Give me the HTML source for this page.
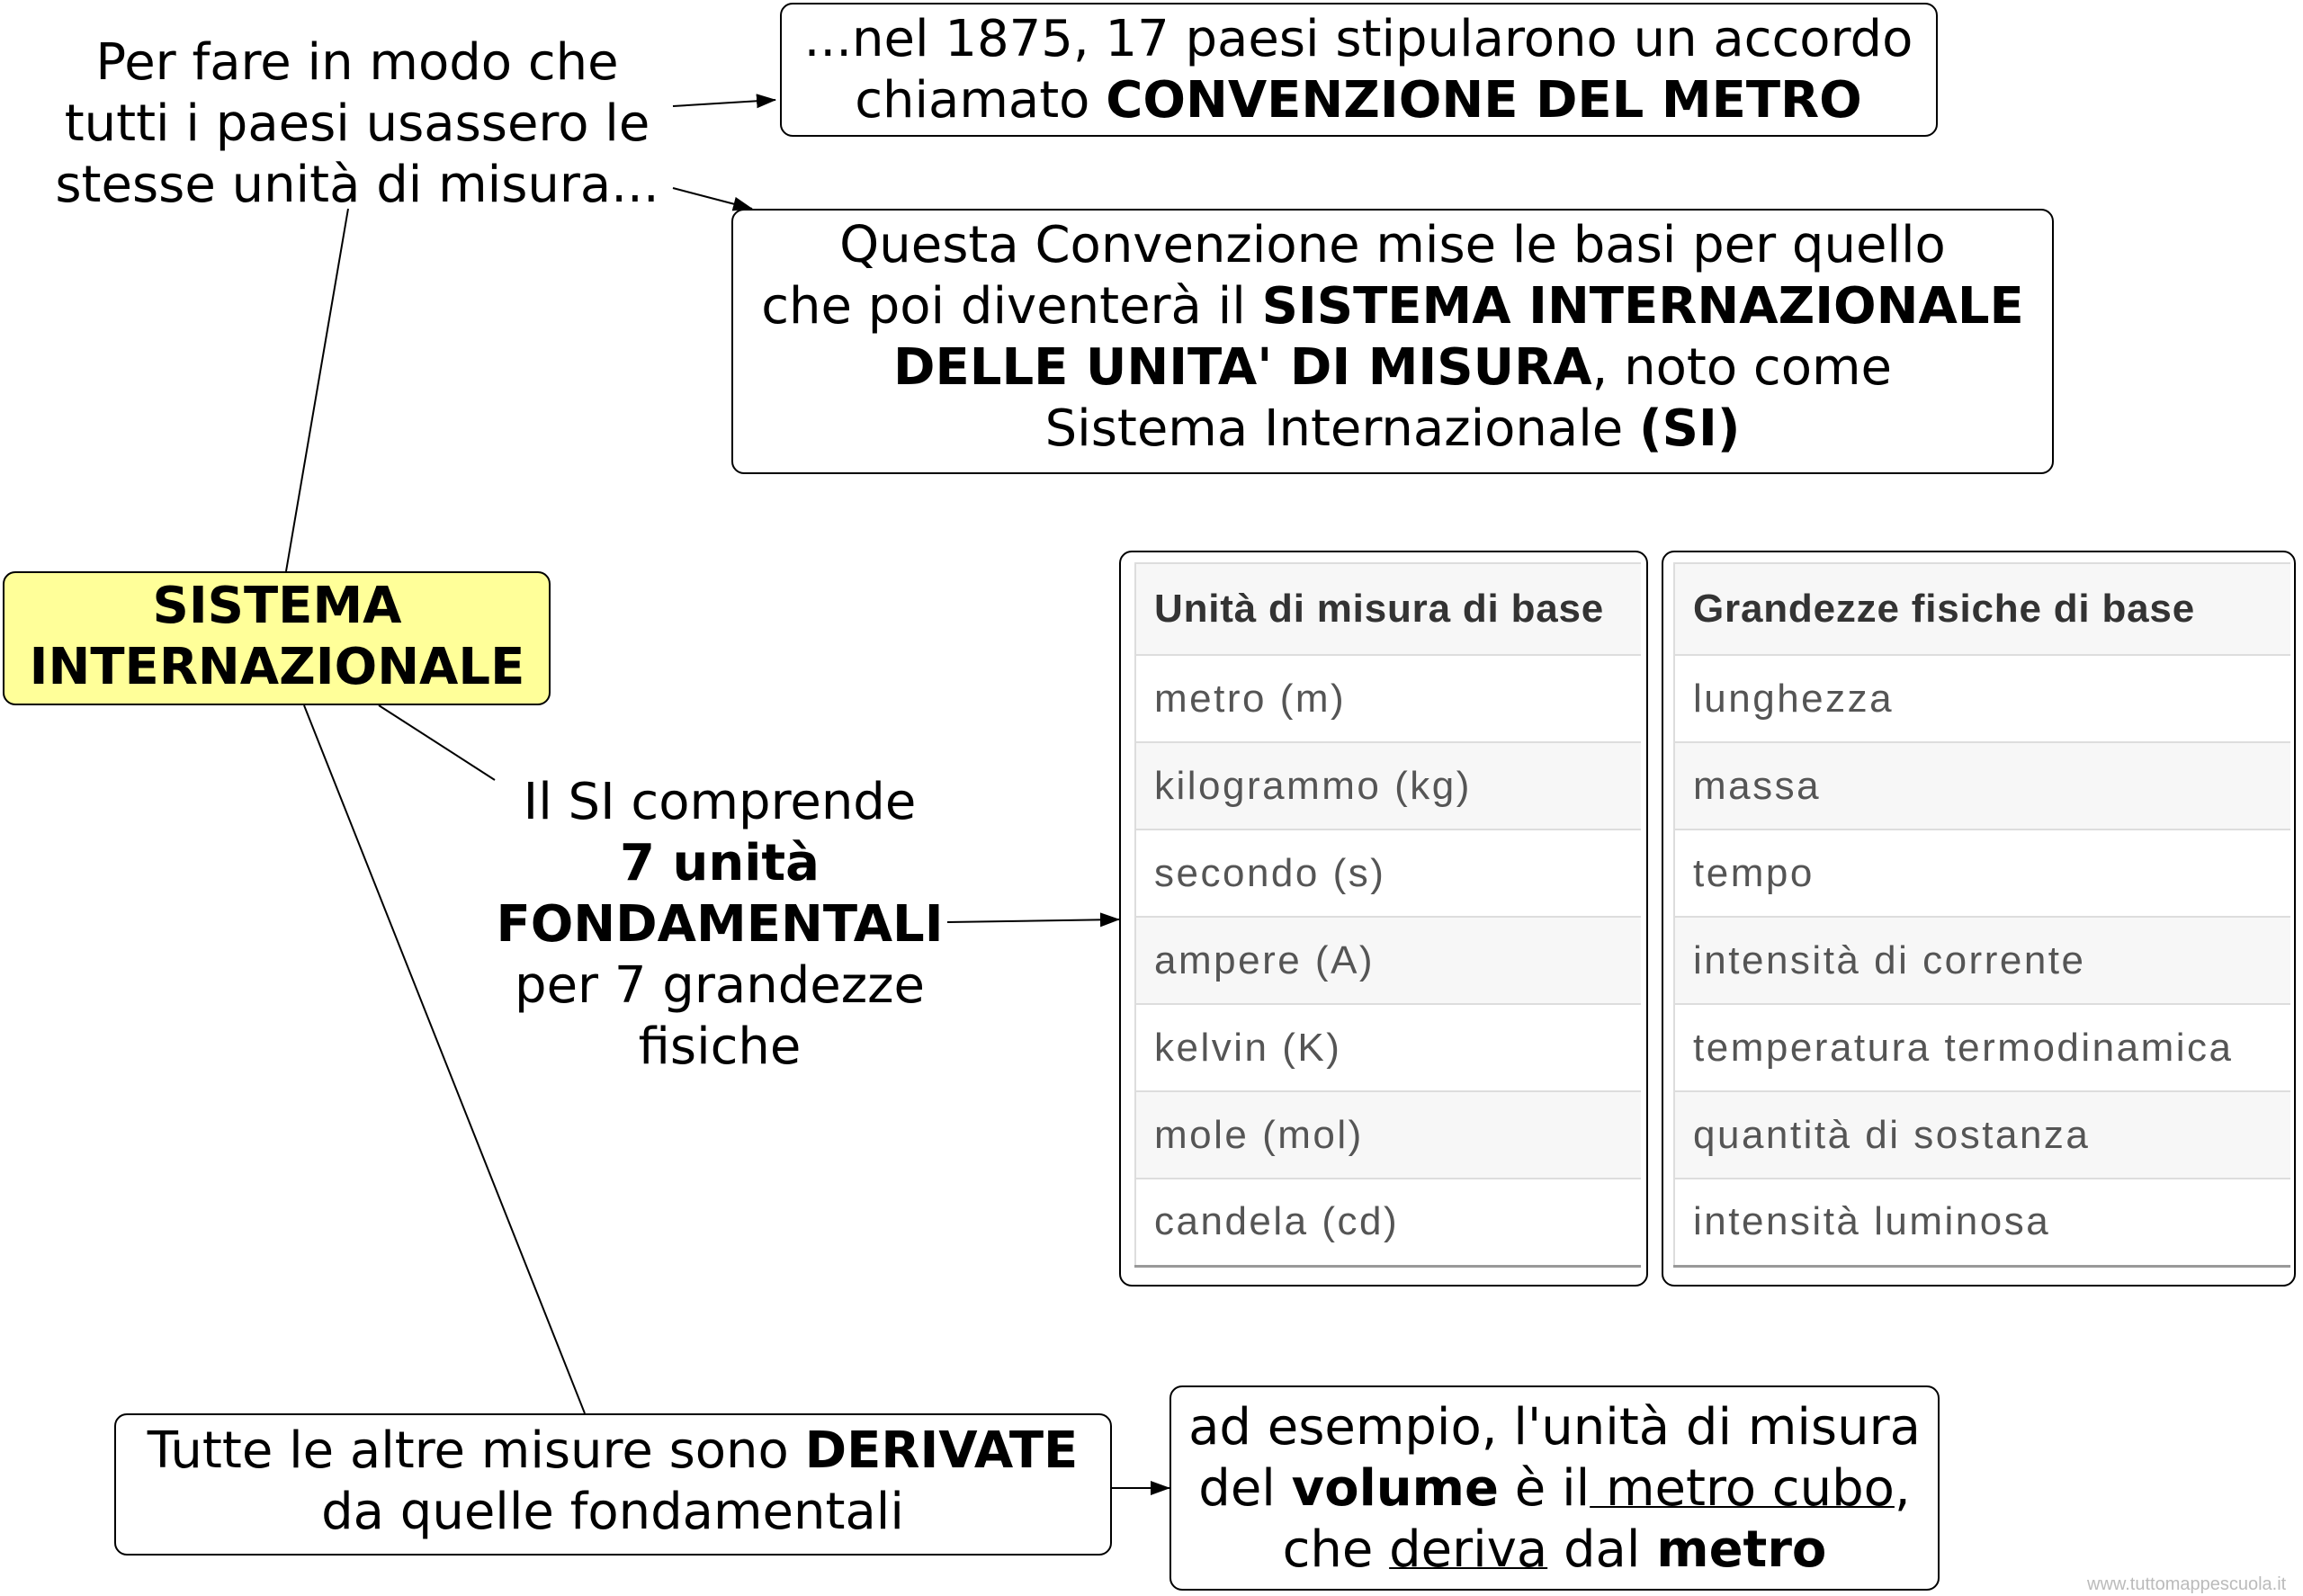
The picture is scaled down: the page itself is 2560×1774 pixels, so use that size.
<!DOCTYPE html>
<html><head><meta charset="utf-8"><style>
body{margin:0;width:2560px;height:1774px;background:#fff;position:relative;overflow:hidden;font-family:"DejaVu Sans","Liberation Sans",sans-serif;color:#000}
.t{position:absolute;white-space:nowrap;text-align:center;font-size:56px;line-height:68px;transform:translateX(-50%)}
.box{position:absolute;border:2px solid #000;border-radius:14px;background:#fff;box-sizing:border-box}
table{border-collapse:collapse;position:absolute;font-family:"Liberation Sans",sans-serif;font-size:44px;letter-spacing:2.5px;color:#555}
td{height:97px;border-top:2px solid #ddd;padding:0 20px;box-sizing:border-box}
tr:nth-child(odd) td{background:#f7f7f7}
tr:first-child td{font-weight:bold;color:#333;height:102px;letter-spacing:0.8px}
table{border-left:2px solid #ddd;border-bottom:3px solid #999}
u{text-decoration-thickness:2px}
</style></head><body>
<svg width="2560" height="1774" style="position:absolute;left:0;top:0">
<defs><marker id="a" markerWidth="22" markerHeight="16" refX="21" refY="8" orient="auto" markerUnits="userSpaceOnUse"><path d="M0,0 L22,8 L0,16z" fill="#000"/></marker></defs>
<g stroke="#000" stroke-width="2" fill="none">
<line x1="387" y1="232" x2="318" y2="635"/>
<line x1="421" y1="784" x2="550" y2="867"/>
<line x1="338" y1="784" x2="650" y2="1571"/>
<line x1="748" y1="118" x2="862" y2="111" marker-end="url(#a)"/>
<line x1="748" y1="209" x2="836" y2="232" marker-end="url(#a)"/>
<line x1="1053" y1="1025" x2="1244" y2="1022" marker-end="url(#a)"/>
<line x1="1236" y1="1654" x2="1300" y2="1654" marker-end="url(#a)"/>
</g></svg>
<div class="box" style="left:867px;top:3px;width:1287px;height:149px"></div>
<div class="box" style="left:813px;top:232px;width:1470px;height:295px"></div>
<div class="box" style="left:3px;top:635px;width:609px;height:149px;background:#ffff99"></div>
<div class="box" style="left:1244px;top:612px;width:588px;height:818px"></div>
<div class="box" style="left:1847px;top:612px;width:705px;height:818px"></div>
<div class="box" style="left:127px;top:1571px;width:1109px;height:158px"></div>
<div class="box" style="left:1300px;top:1540px;width:856px;height:228px"></div>

<div class="t" style="left:397px;top:36px">Per fare in modo che<br>tutti i paesi usassero le<br>stesse unità di misura...</div>
<div class="t" style="left:1510px;top:10px">...nel 1875, 17 paesi stipularono un accordo<br>chiamato <b>CONVENZIONE DEL METRO</b></div>
<div class="t" style="left:1548px;top:239px">Questa Convenzione mise le basi per quello<br>che poi diventerà il <b>SISTEMA INTERNAZIONALE</b><br><b>DELLE UNITA' DI MISURA</b>, noto come<br>Sistema Internazionale <b>(SI)</b></div>
<div class="t" style="left:308px;top:640px;font-weight:bold">SISTEMA<br>INTERNAZIONALE</div>
<div class="t" style="left:800px;top:858px">Il SI comprende<br><b>7 unità</b><br><b>FONDAMENTALI</b><br>per 7 grandezze<br>fisiche</div>
<div class="t" style="left:681px;top:1579px">Tutte le altre misure sono <b>DERIVATE</b><br>da quelle fondamentali</div>
<div class="t" style="left:1728px;top:1553px">ad esempio, l'unità di misura<br>del <b>volume</b> è il<u> metro cubo</u>,<br>che <u>deriva</u> dal <b>metro</b></div>

<table style="left:1261px;top:625px;width:563px">
<tr><td>Unità di misura di base</td></tr><tr><td>metro (m)</td></tr><tr><td>kilogrammo (kg)</td></tr><tr><td>secondo (s)</td></tr><tr><td>ampere (A)</td></tr><tr><td>kelvin (K)</td></tr><tr><td>mole (mol)</td></tr><tr><td>candela (cd)</td></tr>
</table>
<table style="left:1860px;top:625px;width:686px">
<tr><td>Grandezze fisiche di base</td></tr><tr><td>lunghezza</td></tr><tr><td>massa</td></tr><tr><td>tempo</td></tr><tr><td>intensità di corrente</td></tr><tr><td>temperatura termodinamica</td></tr><tr><td>quantità di sostanza</td></tr><tr><td>intensità luminosa</td></tr>
</table>
<div style="position:absolute;left:2320px;top:1750px;font-family:'Liberation Sans',sans-serif;font-size:20px;color:#bbb">www.tuttomappescuola.it</div>
</body></html>
